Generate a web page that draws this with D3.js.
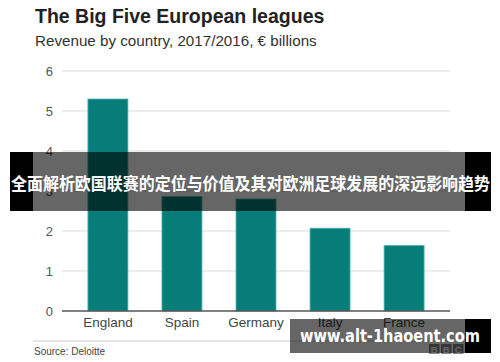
<!DOCTYPE html>
<html>
<head>
    <meta charset="utf-8">
    <script src="https://cdn.jsdelivr.net/npm/d3@7/dist/d3.min.js"></script>
    <style>
        body { margin: 0; background: #fff; }
        svg { display: block; }
        .title { font-family: 'Liberation Sans', Arial, sans-serif; font-weight: bold; font-size: 19.5px; fill: #222; }
        .subtitle { font-family: 'Liberation Sans', Arial, sans-serif; font-size: 15.2px; fill: #333; }
        .tick-label { font-family: 'Liberation Sans', Arial, sans-serif; font-size: 13px; fill: #555; }
        .cat-label { font-family: 'Liberation Sans', Arial, sans-serif; font-size: 13.5px; fill: #444; }
        .source { font-family: 'Liberation Sans', Arial, sans-serif; font-size: 10px; fill: #444; }
    </style>
</head>
<body>
<script>
    // data
    const countries = ["England", "Spain", "Germany", "Italy", "France"];
    const revenue = [5.3, 2.86, 2.8, 2.07, 1.64];
    const yTicks = [0, 1, 2, 3, 4, 5, 6];

    const width = 500, height = 362;
    const svg = d3.select("body").append("svg")
        .attr("width", width)
        .attr("height", height);

    let x = d3.scaleBand()
        .domain(countries)
        .range([62, 450])
        .paddingInner(0.46)
        .paddingOuter(0.35);

    let y = d3.scaleLinear()
        .domain([0, 6])
        .range([311, 71]);

    // titles
    svg.append("text").attr("class", "title").attr("x", 35).attr("y", 23)
        .text("The Big Five European leagues");
    svg.append("text").attr("class", "subtitle").attr("x", 35).attr("y", 46)
        .text("Revenue by country, 2017/2016, € billions");

    // gridlines
    svg.selectAll(".grid")
        .data(yTicks.filter(d => d > 0))
        .enter().append("line")
        .attr("x1", 62).attr("x2", 450)
        .attr("y1", d => y(d)).attr("y2", d => y(d))
        .attr("stroke", "#dcdcdc").attr("stroke-width", 1);

    svg.selectAll(".tick-label")
        .data(yTicks)
        .enter().append("text")
        .attr("class", "tick-label")
        .attr("x", 53).attr("y", d => y(d))
        .attr("dy", "0.35em")
        .attr("text-anchor", "end")
        .text(d => d);

    // bars
    svg.selectAll(".bar")
        .data(countries)
        .enter().append("rect")
        .attr("x", d => x(d))
        .attr("width", x.bandwidth())
        .attr("y", (d, i) => y(revenue[i]))
        .attr("height", (d, i) => y(0) - y(revenue[i]))
        .attr("fill", "#067d78")
        .attr("stroke", "#4fb5b0")
        .attr("stroke-width", 0.8);

    // baseline
    svg.append("line")
        .attr("x1", 62).attr("x2", 450)
        .attr("y1", y(0)).attr("y2", y(0))
        .attr("stroke", "#555").attr("stroke-width", 1.5);

    svg.selectAll(".cat-label")
        .data(countries)
        .enter().append("text")
        .attr("class", "cat-label")
        .attr("x", d => x(d) + x.bandwidth() / 2)
        .attr("y", 327)
        .attr("text-anchor", "middle")
        .text(d => d);

    // footer
    svg.append("line")
        .attr("x1", 33).attr("x2", 452)
        .attr("y1", 341).attr("y2", 341)
        .attr("stroke", "#ccc").attr("stroke-width", 1);
    svg.append("text").attr("class", "source").attr("x", 34).attr("y", 355)
        .text("Source: Deloitte");

    let bbc = svg.append("g").attr("transform", "translate(429,344)");
    ["B", "B", "C"].forEach((c, i) => {
        bbc.append("rect").attr("x", i * 12).attr("y", 0)
            .attr("width", 10.5).attr("height", 10).attr("fill", "#888");
        bbc.append("text").attr("x", i * 12 + 5.25).attr("y", 8.5)
            .attr("text-anchor", "middle")
            .style("font-family", "'Liberation Sans', Arial, sans-serif")
            .style("font-weight", "bold").style("font-size", "9.5px")
            .attr("fill", "#fff").text(c);
    });

    // overlay banner
    svg.append("rect").attr("x", 10).attr("y", 152).attr("width", 23).attr("height", 59).attr("fill", "#000");
    svg.append("rect").attr("x", 465).attr("y", 152).attr("width", 26).attr("height", 59).attr("fill", "#000");
    svg.append("rect").attr("x", 33).attr("y", 152).attr("width", 432).attr("height", 59).attr("fill", "rgba(0,0,0,0.6)");
    svg.append("text")
        .attr("x", 11).attr("y", 190)
        .attr("textLength", 479).attr("lengthAdjust", "spacingAndGlyphs")
        .style("font-family", "'Noto Sans CJK SC', sans-serif")
        .style("font-weight", "bold").style("font-size", "17.5px")
        .attr("fill", "#fff")
        .text("全面解析欧国联赛的定位与价值及其对欧洲足球发展的深远影响趋势");

    // bottom banner
    svg.append("rect").attr("x", 465).attr("y", 319).attr("width", 26).attr("height", 34).attr("fill", "#000");
    svg.append("rect").attr("x", 290).attr("y", 319).attr("width", 175).attr("height", 34).attr("fill", "rgba(0,0,0,0.6)");
    svg.append("text")
        .attr("x", 300).attr("y", 342)
        .attr("textLength", 180).attr("lengthAdjust", "spacingAndGlyphs")
        .style("font-family", "'DejaVu Sans', sans-serif")
        .style("font-weight", "bold").style("font-size", "17px")
        .attr("fill", "#fff")
        .text("www.alt-1haoent.com");
</script>
</body>
</html>
